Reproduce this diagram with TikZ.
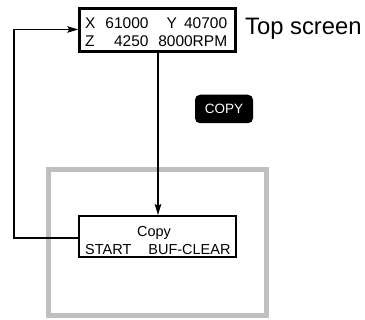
\documentclass[tikz,border=0pt]{standalone}
\usepackage{fontspec}
\setmainfont{Liberation Sans}
\usetikzlibrary{arrows.meta}
\definecolor{framegray}{RGB}{190,191,194}
\tikzset{
  screenbox/.style={draw=black, fill=white, rectangle, inner sep=0pt},
  txt/.style={anchor=base west, inner sep=0pt, font=\fontsize{15.5}{18}\selectfont},
  ctxt/.style={inner sep=0pt, font=\fontsize{14.5}{17}\selectfont},
  conn/.style={draw=black, line width=1.3pt, -{Stealth[length=11pt,width=6.5pt,inset=2pt]}},
  keybtn/.style={fill=black, rounded corners=5pt, minimum width=58pt, minimum height=28.5pt, inner sep=0pt,
     text=white, font=\fontsize{13.5}{15}\selectfont}
}
\begin{document}
\begin{tikzpicture}[x=1pt,y=-1pt]
\useasboundingbox (0,0) rectangle (365,320);
% gray frame
\draw[framegray, line width=5pt] (48.5,169.5) rectangle (266.5,315.5);
% top screen box
\node[screenbox, line width=3pt, minimum width=155.4pt, minimum height=43pt] (top) at (157.5,30.3) {};
\node[txt] (x1) at (85,28.3) {\makebox[63.3pt]{X\hfill 61000}\makebox[78.7pt]{\hfill Y\hspace{7pt}40700}};
\node[txt] (x2) at (85,46.7) {\makebox[63.3pt]{Z\hfill 4250}\makebox[78.7pt]{\hfill 8000RPM}};
\node[anchor=base west, inner sep=0pt, font=\fontsize{23.8}{27}\selectfont] (lbl) at (245,35) {Top screen};
% copy box
\node[screenbox, line width=2pt, minimum width=156.4pt, minimum height=41.3pt] (copy) at (157.5,236.7) {};
\node[ctxt, anchor=base] (c1) at (154,236.7) {Copy};
\node[ctxt, anchor=base west] (c2) at (85,254.3) {START\hspace{17pt}BUF-CLEAR};
% key
\node[keybtn] (key) at (224,109) {COPY};
% connectors
\coordinate (lcorner1) at (14,238);
\coordinate (lcorner2) at (14,29.5);
\draw[conn] (copy.west |- lcorner1) -- (lcorner1) -- (lcorner2) -- (top.west |- lcorner2);
\draw[conn, line width=1.8pt] (top.south -| 158,0) -- (copy.north -| 158,0);
\end{tikzpicture}
\end{document}
